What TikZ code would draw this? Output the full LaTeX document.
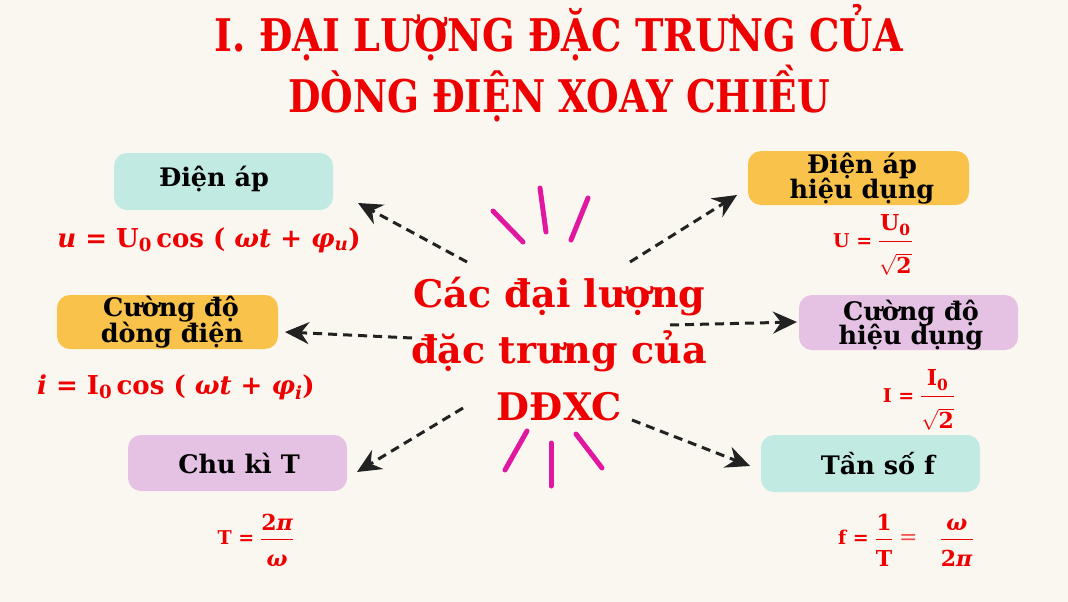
\documentclass[tikz,border=0pt]{standalone}
\usepackage{fontspec}
\usepackage{amsmath}
\usepackage{graphicx}
\setmainfont{DejaVu Serif}
\usetikzlibrary{arrows.meta}
\definecolor{bgc}{HTML}{FAF7F1}
\definecolor{tealc}{HTML}{C1EAE3}
\definecolor{orangec}{HTML}{F9C24B}
\definecolor{purplec}{HTML}{E5C1E3}
\definecolor{redc}{HTML}{EE0000}
\definecolor{magc}{HTML}{E0189F}
\definecolor{arrc}{HTML}{222222}
\newcommand\tb[1]{\text{\bfseries #1}}
\newcommand\tlab[1]{\text{\fontsize{19}{20}\selectfont\bfseries #1}}
\newcommand\numup{\rule[-5pt]{0pt}{5pt}}
\newcommand\dendown{\rule{0pt}{24pt}}
\newcommand\numupb{\rule[-8pt]{0pt}{8pt}}
\newcommand\dendownb{\rule{0pt}{29pt}}
\begin{document}
\begin{tikzpicture}[x=1pt,y=-1pt,
  box/.style={rounded corners=13pt, inner sep=0pt, draw=none},
  lbl/.style={font=\fontsize{25.5}{25.5}\selectfont\bfseries, text=black, inner sep=0pt, anchor=base},
  ctext/.style={font=\fontsize{38}{38}\selectfont\bfseries, text=redc, inner sep=0pt, anchor=base},
  ttl/.style={font=\fontsize{45}{45}\selectfont\bfseries, text=redc, inner sep=0pt, anchor=base},
  fml/.style={font=\fontsize{26}{28}\selectfont\bfseries, text=redc, inner sep=0pt, anchor=base},
  frac/.style={font=\fontsize{22}{24}\selectfont\bfseries, text=redc, inner sep=0pt, anchor=center},
  conn/.style={draw=arrc, line width=3pt, dash pattern=on 9pt off 6pt, -{Stealth[length=24pt,width=22pt,inset=8pt]}},
  burst/.style={draw=magc, line width=5pt, line cap=round}]
\fill[bgc] (0,0) rectangle (1068,602);
\useasboundingbox (0,0) rectangle (1068,602);

% title
\node[ttl] (t1) at (559,52) {\resizebox{688pt}{\height}{I. ĐẠI LƯỢNG ĐẶC TRƯNG CỦA}};
\node[ttl] (t2) at (559,112) {\resizebox{542pt}{\height}{DÒNG ĐIỆN XOAY CHIỀU}};

% boxes
\node[box, fill=tealc, minimum width=219pt, minimum height=57pt] (b1) at (223.5,181.5) {};
\node[box, fill=orangec, minimum width=221pt, minimum height=54pt] (b2) at (167.5,322) {};
\node[box, fill=purplec, minimum width=219pt, minimum height=56pt] (b3) at (237.5,463) {};
\node[box, fill=orangec, minimum width=221pt, minimum height=54pt] (b4) at (858.5,178) {};
\node[box, fill=purplec, minimum width=219pt, minimum height=55pt] (b5) at (908.5,322.5) {};
\node[box, fill=tealc, minimum width=219pt, minimum height=57pt] (b6) at (870.5,463.5) {};

% box labels
\node[lbl] (l1) at (214,186) {Điện áp};
\node[lbl] (l2a) at (171,316) {Cường độ};
\node[lbl] (l2b) at (172,342) {dòng điện};
\node[lbl] (l3) at (239,473) {Chu kì T};
\node[lbl] (l4a) at (862,173) {Điện áp};
\node[lbl] (l4b) at (862,198) {hiệu dụng};
\node[lbl] (l5a) at (911,320) {Cường độ};
\node[lbl] (l5b) at (911,344) {hiệu dụng};
\node[lbl] (l6) at (878,474) {Tần số f};

% center text
\node[ctext] (c1) at (559.5,307) {Các đại lượng};
\node[ctext] (c2) at (559,363) {đặc trưng của};
\node[ctext] (c3) at (559.5,420) {DĐXC};

% formulas
\node[fml] (f1) at (209,247) {\textit{u} = U\textsubscript{0}\,cos ( \textit{ωt} + \textit{φ}\textsubscript{\textit{u}})};
\node[fml] (f2) at (176,394) {\textit{i} = I\textsubscript{0}\,cos ( \textit{ωt} + \textit{φ}\textsubscript{\textit{i}})};
\node[frac] (f3) at (256,540) {$\tlab{T =}\;\dfrac{\tb{2\textit{π}}\numup}{\dendown\tb{\textit{ω}}}$};
\node[frac] (f4) at (873,245) {$\tlab{U =}\;\dfrac{\tb{U\textsubscript{0}}\numupb}{\dendownb\sqrt{\tb{2}}}$};
\node[frac] (f5) at (919,400) {$\tlab{I =}\;\dfrac{\tb{I\textsubscript{0}}\numupb}{\dendownb\sqrt{\tb{2}}}$};
\node[frac] (f6) at (906,540) {$\tlab{f =}\;\dfrac{\tb{1}\numup}{\dendown\tb{T}}\;\text{\mdseries\color{redc!70}=}\quad\dfrac{\tb{\textit{ω}}\numup}{\dendown\tb{2\textit{π}}}$};

% connector coordinates
\coordinate (s1) at (467,262); \coordinate (e1) at (358,203);
\coordinate (s2) at (412,338); \coordinate (e2) at (285,332);
\coordinate (s3) at (463,408); \coordinate (e3) at (357,472);
\coordinate (s4) at (630,262); \coordinate (e4) at (737,195);
\coordinate (s5) at (670,325); \coordinate (e5) at (797,322);
\coordinate (s6) at (632,420); \coordinate (e6) at (750,466);
\draw[conn] (s1) -- (e1);
\draw[conn] (s2) -- (e2);
\draw[conn] (s3) -- (e3);
\draw[conn] (s4) -- (e4);
\draw[conn] (s5) -- (e5);
\draw[conn] (s6) -- (e6);

% bursts
\draw[burst] (493,211) -- (523,242);
\draw[burst] (540,188) -- (546,232);
\draw[burst] (588,198) -- (571,240);
\draw[burst] (527,431) -- (505,470);
\draw[burst] (551,443) -- (551,486);
\draw[burst] (576,434) -- (602,468);
\end{tikzpicture}
\end{document}
